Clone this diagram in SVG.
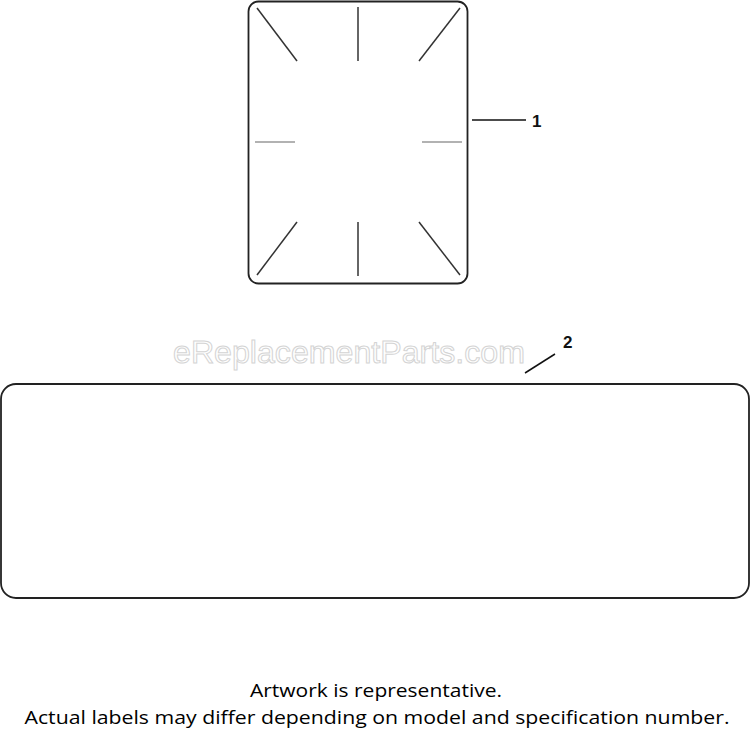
<svg xmlns="http://www.w3.org/2000/svg" width="750" height="733" viewBox="0 0 750 733">
<style>
.outline{fill:none;stroke:#222;stroke-width:1.8}
.mark{stroke:#333;stroke-width:1.5}
.markg{stroke:#999;stroke-width:1.5}
.lead{stroke:#111;stroke-width:1.5}
.num{font-family:"Liberation Sans",Arial,sans-serif;font-weight:bold;font-size:17px;fill:#111}
.note{font-family:"Open Sans","Liberation Sans",sans-serif;font-size:18.5px;fill:#000;text-anchor:middle}
</style>
<rect width="750" height="733" fill="#fff"/>
<text x="349" y="363" text-anchor="middle" font-family="Liberation Sans, Arial, sans-serif" font-size="31" fill="#fff" stroke="#d4d4d4" stroke-width="1" textLength="352" lengthAdjust="spacingAndGlyphs">eReplacementParts.com</text>
<g id="node1">
<rect class="outline" x="248.5" y="1.5" width="219" height="282" rx="10"/>
<line class="mark" x1="257" y1="8" x2="297" y2="61"/>
<line class="mark" x1="358" y1="7" x2="358" y2="61"/>
<line class="mark" x1="460" y1="8" x2="419" y2="61"/>
<line class="markg" x1="255" y1="142" x2="295" y2="142"/>
<line class="markg" x1="422" y1="142" x2="462" y2="142"/>
<line class="mark" x1="297" y1="222" x2="257" y2="275"/>
<line class="mark" x1="358" y1="222" x2="358" y2="276"/>
<line class="mark" x1="419" y1="222" x2="460" y2="275"/>
</g>
<g id="node2">
<rect class="outline" x="1" y="384" width="748" height="214" rx="15"/>
</g>
<g id="connectors">
<line class="lead" x1="472" y1="120" x2="526" y2="120"/>
<line class="lead" x1="525" y1="373" x2="555" y2="354"/>
</g>
<g id="labels">
<text class="num" x="532" y="127">1</text>
<text class="num" x="563" y="348">2</text>
</g>
<g id="note">
<text class="note" x="376" y="697" textLength="252" lengthAdjust="spacingAndGlyphs">Artwork is representative.</text>
<text class="note" x="377" y="724" textLength="705" lengthAdjust="spacingAndGlyphs">Actual labels may differ depending on model and specification number.</text>
</g>
</svg>
